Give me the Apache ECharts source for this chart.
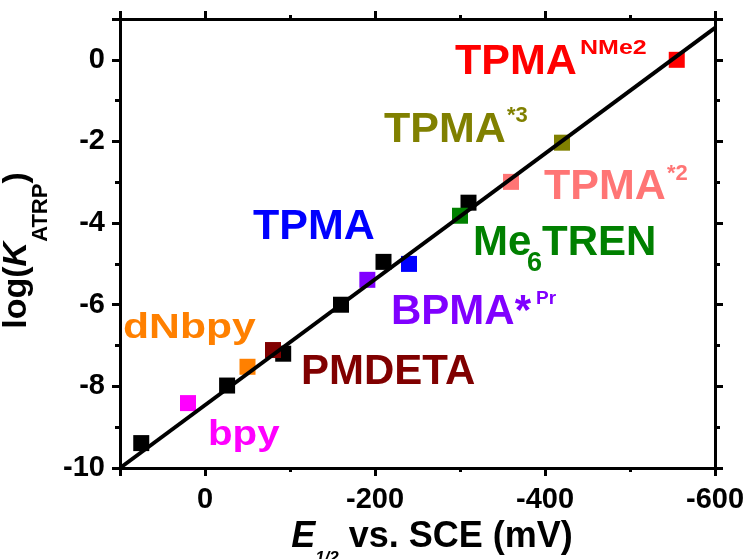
<!DOCTYPE html>
<html><head><meta charset="utf-8">
<script src="https://cdn.jsdelivr.net/npm/echarts@6/dist/echarts.min.js"></script>
<style>html,body{margin:0;padding:0;background:#fff}#c{width:752px;height:559px}</style>
</head><body><div id="c"></div>
<script>
// ---- data ----
const blackE = [75, -26, -92, -160, -210, -310];
const blackLogK = [-9.39, -7.98, -7.2, -6.0, -4.95, -3.5];
const ligands = ['bpy', 'dNbpy', 'PMDETA', 'BPMA*Pr', 'TPMA', 'Me6TREN', 'TPMA*2', 'TPMA*3', 'TPMA NMe2'];
const ligandE = [20, -50, -80, -191, -240, -300, -360, -420, -555];
const ligandLogK = [-8.41, -7.52, -7.11, -5.39, -5.0, -3.82, -2.99, -2.03, 0.0];
const ligandColors = ['#ff00ff', '#ff8000', '#800000', '#8000ff', '#0000ff', '#008000', '#ff7575', '#808000', '#ff0000'];
const fitE = [100, -600];
const fitLogK = [-10, 0.78];
const xTickLabels = ['0', '-200', '-400', '-600'];
const yTickLabels = ['0', '-2', '-4', '-6', '-8', '-10'];

// ---- styling / layout ----
const FF = '"Liberation Sans", Arial, Helvetica, sans-serif';
const RED = '#ff0000', OLIVE = '#808000', PINK = '#ff7575', GREEN = '#008000', BLUE = '#0000ff',
      PURPLE = '#8000ff', DARKRED = '#800000', ORANGE = '#ff8000', MAGENTA = '#ff00ff';
// [text, x, y(middle), fontSize, color, scaleX]
const annotLayout = [
  ['TPMA', 455, 62.5, 43, RED, 1],
  ['NMe2', 580, 48.5, 20, RED, 1.25],
  ['TPMA', 384, 130, 43, OLIVE, 1],
  ['*3', 507, 115.5, 22, OLIVE, 1],
  ['TPMA', 544, 187.5, 43, PINK, 1],
  ['*2', 667, 173.5, 22, PINK, 1],
  ['Me', 473, 243, 42, GREEN, 1],
  ['6', 527, 264, 27, GREEN, 1],
  ['TREN', 542, 243, 42, GREEN, 1],
  ['TPMA', 253, 227.5, 43, BLUE, 1],
  ['BPMA*', 391, 312, 42, PURPLE, 1],
  ['Pr', 536, 298.5, 19, PURPLE, 1],
  ['PMDETA', 301, 372.5, 42, DARKRED, 1],
  ['dNbpy', 123, 328, 35, ORANGE, 1.22],
  ['bpy', 208, 435, 35, MAGENTA, 1.15]
];

const tickLine = {color: '#000', width: 3};
function xAxisDef(pos, labels) {
  return {
    type: 'value', position: pos, min: -600, max: 100, interval: 200, inverse: true,
    axisLine: {show: true, onZero: false, lineStyle: {color: '#000', width: 3}},
    axisTick: {show: true, inside: false, length: 8, lineStyle: tickLine},
    minorTick: {show: true, splitNumber: 2, length: 4, lineStyle: tickLine},
    splitLine: {show: false}, minorSplitLine: {show: false},
    axisLabel: {show: labels, showMaxLabel: false, margin: 17, fontSize: 29, fontWeight: 'bold',
      color: '#000', fontFamily: FF,
      formatter: v => { const i = [0, -200, -400, -600].indexOf(v); return i >= 0 ? xTickLabels[i] : ''; }}
  };
}
function yAxisDef(pos, labels) {
  return {
    type: 'value', position: pos, min: -10, max: 1, interval: 2,
    axisLine: {show: true, onZero: false, lineStyle: {color: '#000', width: 3}},
    axisTick: {show: true, inside: false, length: 8, lineStyle: tickLine},
    minorTick: {show: true, splitNumber: 2, length: 5, lineStyle: tickLine},
    splitLine: {show: false}, minorSplitLine: {show: false},
    axisLabel: {show: labels, showMaxLabel: false, margin: 15, fontSize: 29, fontWeight: 'bold',
      color: '#000', fontFamily: FF,
      formatter: v => { const i = [0, -2, -4, -6, -8, -10].indexOf(v); return i >= 0 ? yTickLabels[i] : ''; }}
  };
}

const xMain = xAxisDef('bottom', true);
xMain.name = '{i|E}{s|1/2}{n| vs. SCE (mV)}';
xMain.nameLocation = 'middle';
xMain.nameGap = 36.5;
xMain.nameTextStyle = {
  fontSize: 36, fontWeight: 'bold', fontFamily: FF, color: '#000', padding: [0, 0, 0, 29],
  rich: {
    i: {fontSize: 36, fontWeight: 'bold', fontStyle: 'italic', fontFamily: FF, color: '#000', lineHeight: 60},
    s: {fontSize: 17, fontWeight: 'bold', fontStyle: 'italic', fontFamily: FF, color: '#000', lineHeight: 17, verticalAlign: 'bottom'},
    n: {fontSize: 36, fontWeight: 'bold', fontFamily: FF, color: '#000', lineHeight: 60}
  }
};
const yMain = yAxisDef('left', true);
yMain.name = '{n|log(}{i|K}{s|ATRP}{n|)}';
yMain.nameLocation = 'middle';
yMain.nameGap = 56.5;
yMain.nameTextStyle = {
  fontSize: 34, fontWeight: 'bold', fontFamily: FF, color: '#000', padding: [0, 14, 0, 0],
  rich: {
    n: {fontSize: 34, fontWeight: 'bold', fontFamily: FF, color: '#000', lineHeight: 72},
    i: {fontSize: 34, fontWeight: 'bold', fontStyle: 'italic', fontFamily: FF, color: '#000', lineHeight: 72},
    s: {fontSize: 22, fontWeight: 'bold', fontFamily: FF, color: '#000', lineHeight: 22, verticalAlign: 'bottom'}
  }
};

const series = [];
series.push({
  type: 'scatter', name: 'other ligands', z: 2, symbol: 'rect', symbolSize: 16,
  itemStyle: {color: '#000', opacity: 1},
  data: blackE.map((e, i) => [e, blackLogK[i]])
});
ligands.forEach((n, i) => {
  series.push({
    type: 'scatter', name: n, z: 3, symbol: 'rect', symbolSize: 16,
    itemStyle: {color: ligandColors[i], opacity: 1},
    data: [[ligandE[i], ligandLogK[i]]]
  });
});
series.push({
  type: 'line', name: 'fit', z: 4, showSymbol: false, symbol: 'none', clip: true,
  lineStyle: {color: '#000', width: 4},
  data: fitE.map((e, i) => [e, fitLogK[i]])
});

const graphic = annotLayout.map(a => ({
  type: 'text', x: a[1], y: a[2], scaleX: a[5], z: 10,
  style: {text: a[0], fill: a[4], fontSize: a[3], fontWeight: 'bold', fontFamily: FF,
    align: 'left', verticalAlign: 'middle'}
}));

const chart = echarts.init(document.getElementById('c'), null, {renderer: 'canvas'});
chart.setOption({
  animation: false,
  backgroundColor: '#fff',
  grid: {left: 120, right: 37, top: 19, bottom: 91, containLabel: false, outerBoundsMode: 'none'},
  xAxis: [xMain, xAxisDef('top', false)],
  yAxis: [yMain, yAxisDef('right', false)],
  series: series,
  graphic: graphic
});
</script>
</body></html>
